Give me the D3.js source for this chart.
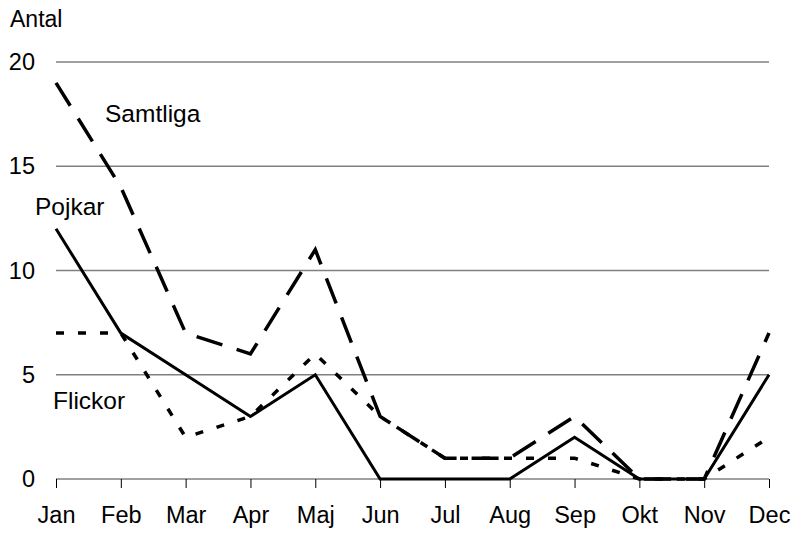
<!DOCTYPE html>
<html>
<head>
<meta charset="utf-8">
<script src="https://cdn.jsdelivr.net/npm/d3@7"></script>
<style>
  body { margin: 0; background: #fff; }
  text { font-family: Arial, "Liberation Sans", sans-serif; fill: #000; }
</style>
</head>
<body>
<svg id="chart" width="793" height="534"></svg>
<script>
var months = ["Jan","Feb","Mar","Apr","Maj","Jun","Jul","Aug","Sep","Okt","Nov","Dec"];
var samtliga = [19,14,7,6,11,3,1,1,3,0,0,7];
var pojkar = [12,7,5,3,5,0,0,0,2,0,0,5];
var flickor = [7,7,2,3,6,3,1,1,1,0,0,2];
var yTicks = [0,5,10,15,20];

var svg = d3.select("#chart");

var x = d3.scalePoint().domain(months).range([56, 769]).padding(0);
var y = d3.scaleLinear().domain([0, 20]).range([479, 62]);

// gridlines
svg.append("g").selectAll("line")
  .data(yTicks)
  .enter().append("line")
  .attr("x1", 56).attr("x2", 769)
  .attr("y1", function(d) { return y(d); })
  .attr("y2", function(d) { return y(d); })
  .style("stroke", "#808080")
  .style("stroke-width", "1.5px");

// y labels
svg.append("g").selectAll("text")
  .data(yTicks)
  .enter().append("text")
  .attr("x", 35)
  .attr("y", function(d) { return y(d) + 8; })
  .attr("text-anchor", "end")
  .style("font-size", "23.5px")
  .text(function(d) { return d; });

svg.append("text").attr("x", 10).attr("y", 27).style("font-size", "23px").text("Antal");

// x axis ticks and labels
var xAxis = svg.append("g").attr("transform", "translate(0,479)")
  .call(d3.axisBottom(x).tickSize(9).tickPadding(18));
xAxis.select(".domain").remove();
xAxis.selectAll("line").style("stroke", "#000").style("stroke-width", "1px");
xAxis.selectAll("text").style("font-size", "23.5px").attr("font-family", null);

var line = d3.line()
  .x(function(d, i) { return x(months[i]); })
  .y(function(d) { return y(d); });

svg.append("path").datum(flickor).attr("d", line)
  .style("fill", "none").style("stroke", "#000").style("stroke-width", "3.5px")
  .style("stroke-dasharray", "8,14");

svg.append("path").datum(samtliga).attr("d", line)
  .style("fill", "none").style("stroke", "#000").style("stroke-width", "3.5px")
  .style("stroke-dasharray", "27,15");

svg.append("path").datum(pojkar).attr("d", line)
  .style("fill", "none").style("stroke", "#000").style("stroke-width", "3px");

// series labels
svg.append("text").attr("x", 105).attr("y", 122).style("font-size", "24.5px").text("Samtliga");
svg.append("text").attr("x", 35).attr("y", 215).style("font-size", "24.5px").text("Pojkar");
svg.append("text").attr("x", 53).attr("y", 409).style("font-size", "24.5px").text("Flickor");
</script>
</body>
</html>
